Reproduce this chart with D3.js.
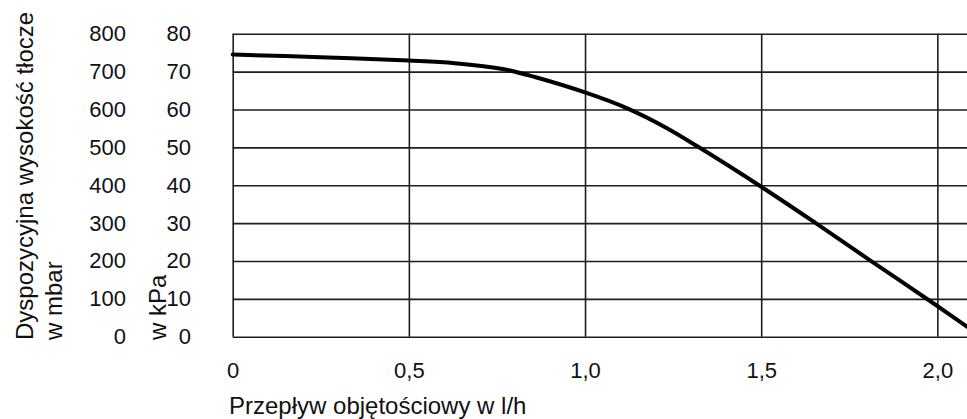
<!DOCTYPE html>
<html>
<head>
<meta charset="utf-8">
<script src="https://cdn.jsdelivr.net/npm/d3@7"></script>
<style>
  html, body { margin: 0; padding: 0; background: #fff; }
  svg { display: block; }
  text { font-family: "Liberation Sans", Arial, sans-serif; fill: #111; }
</style>
</head>
<body>
<svg id="chart" width="967" height="419"></svg>
<script>
// ---- data ----
const flowLh = [0, 0.25, 0.5, 0.63, 0.77, 0.86, 1.0, 1.12, 1.23, 1.32, 1.5, 1.65, 1.81, 2.0, 2.085];
const headKPa = [74.5, 73.8, 72.9, 72.2, 70.6, 68.5, 64.5, 60.3, 55.2, 50.2, 39.6, 30.3, 20.1, 8.1, 2.6];
const xTicks = [0, 0.5, 1.0, 1.5, 2.0];
const kPaTicks = [0, 10, 20, 30, 40, 50, 60, 70, 80];
const mbarTicks = [0, 100, 200, 300, 400, 500, 600, 700, 800];
const xTitle = "Przepływ objętościowy w l/h";
const yTitleLines = ["Dyspozycyjna wysokość tłocze", "w mbar"];
const yTitle2 = "w kPa";

// ---- layout ----
const plotLeft = 232.7, plotRight = 967.3, plotTop = 33.7, plotBottom = 336.7;
const svg = d3.select("#chart");

const x = d3.scaleLinear().domain([0, 2.085]).range([plotLeft, plotRight]);
const y = d3.scaleLinear().domain([0, 80]).range([plotBottom, plotTop]);
const yM = d3.scaleLinear().domain([0, 800]).range([plotBottom, plotTop]);

// grid
const gridColor = "#1e1e1e";
const gy = svg.append("g").attr("transform", `translate(${plotLeft},0)`)
  .call(d3.axisLeft(y).tickValues(kPaTicks).tickSize(-(plotRight - plotLeft)).tickFormat(""));
gy.select(".domain").remove();
gy.selectAll("line").attr("stroke", gridColor).attr("stroke-width", 1.6);

const gx = svg.append("g").attr("transform", `translate(0,${plotBottom})`)
  .call(d3.axisBottom(x).tickValues(xTicks).tickSize(-(plotBottom - plotTop)).tickFormat(""));
gx.select(".domain").remove();
gx.selectAll("line").attr("stroke", gridColor).attr("stroke-width", 1.6);

// curve
svg.append("path")
  .datum(flowLh.map((f, i) => [f, headKPa[i]]))
  .attr("fill", "none")
  .attr("stroke", "#000")
  .attr("stroke-width", 4)
  .attr("stroke-linecap", "round")
  .attr("stroke-linejoin", "round")
  .attr("d", d3.line().x(d => x(d[0])).y(d => y(d[1])).curve(d3.curveCatmullRom.alpha(0.5)));

// tick labels
function styleAxis(g) {
  g.select(".domain").remove();
  g.selectAll("line").remove();
  g.selectAll("text").attr("font-size", 22).attr("fill", "#111")
    .style("font-family", '"Liberation Sans", Arial, sans-serif');
}
svg.append("g").attr("transform", "translate(126,0)")
  .call(d3.axisLeft(yM).tickValues(mbarTicks).tickSize(0).tickPadding(0).tickFormat(d3.format("d")))
  .call(styleAxis);
svg.append("g").attr("transform", "translate(191,0)")
  .call(d3.axisLeft(y).tickValues(kPaTicks).tickSize(0).tickPadding(0).tickFormat(d3.format("d")))
  .call(styleAxis);
svg.append("g").attr("transform", "translate(0,362.4)")
  .call(d3.axisBottom(x).tickValues(xTicks).tickSize(0).tickPadding(0)
    .tickFormat(d => d === 0 ? "0" : d.toFixed(1).replace(".", ",")))
  .call(styleAxis);

// titles
svg.append("text").attr("x", 229).attr("y", 414).attr("font-size", 24).text(xTitle);

const yt = svg.append("text").attr("transform", "translate(33,340) rotate(-90)").attr("font-size", 24);
yt.append("tspan").attr("x", 0).attr("y", 0).text(yTitleLines[0]);
yt.append("tspan").attr("x", 0).attr("y", 29).text(yTitleLines[1]);

svg.append("text").attr("transform", "translate(166,340) rotate(-90)").attr("font-size", 24).text(yTitle2);
</script>
</body>
</html>
